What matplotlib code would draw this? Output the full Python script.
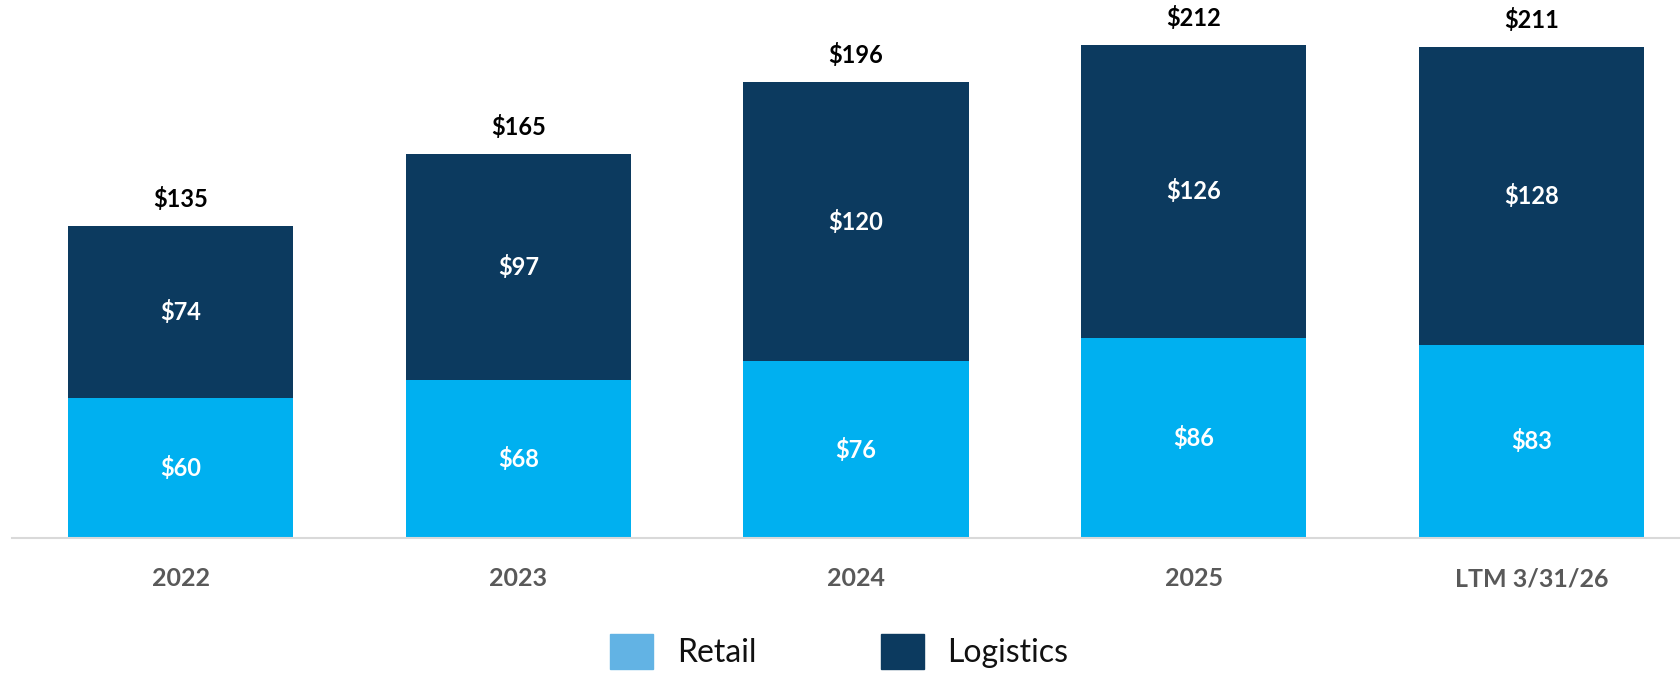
import matplotlib.pyplot as plt
from matplotlib.patches import Patch

plt.rcParams['font.family'] = ['Lato', 'DejaVu Sans']

categories = ['2022', '2023', '2024', '2025', 'LTM 3/31/26']
retail = [60, 68, 76, 86, 83]
logistics = [74, 97, 120, 126, 128]
totals = [135, 165, 196, 212, 211]

retail_color = '#00B0F0'
logistics_color = '#0C3A5F'
legend_retail_color = '#62B3E4'

W, H = 1681, 674
fig = plt.figure(figsize=(W / 100, H / 100), dpi=100)
ax = fig.add_axes([12 / W, (H - 538) / H, (W - 12) / W, 538 / H])

x = list(range(len(categories)))
b1 = ax.bar(x, retail, width=0.667, color=retail_color)
b2 = ax.bar(x, logistics, width=0.667, bottom=retail, color=logistics_color)

for i in x:
    ax.text(i, retail[i] / 2, f'${retail[i]}', ha='center', va='center',
            color='white', fontsize=17, fontweight='bold')
    ax.text(i, retail[i] + logistics[i] / 2, f'${logistics[i]}', ha='center', va='center',
            color='white', fontsize=17, fontweight='bold')
    ax.annotate(f'${totals[i]}', (i, retail[i] + logistics[i]), xytext=(0, 19.5),
                textcoords='offset points', ha='center', va='center',
                fontsize=17, fontweight='bold', color='black', annotation_clip=False)

ax.set_xlim(-0.499, 4.443)
ax.set_ylim(0, 231.3)
ax.set_xticks(x)
ax.set_xticklabels(categories, fontsize=18, fontweight='bold', color='#595959')
ax.tick_params(axis='x', length=0, pad=21)
ax.set_yticks([])
for s in ['top', 'right', 'left']:
    ax.spines[s].set_visible(False)
ax.spines['bottom'].set_color('#D9D9D9')
ax.spines['bottom'].set_linewidth(1.5)

handles = [Patch(color=legend_retail_color, label='Retail'),
           Patch(color=logistics_color, label='Logistics')]
fig.legend(handles=handles, loc='upper left', bbox_to_anchor=(610 / W, 1 - 634 / H),
           ncol=2, frameon=False, prop={'weight': 'normal', 'size': 23},
           labelcolor='#111111',
           handlelength=1.34, handleheight=1.3, handletextpad=0.75,
           columnspacing=3.9, borderpad=0, borderaxespad=0)

fig.savefig('out.png', dpi=100)
